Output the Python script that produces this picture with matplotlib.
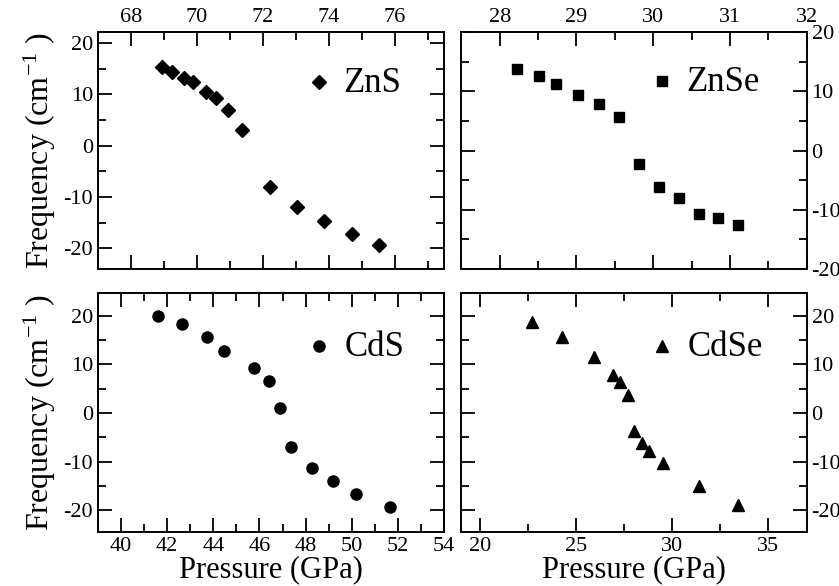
import matplotlib
matplotlib.use('Agg')
import matplotlib.pyplot as plt
from matplotlib.ticker import MultipleLocator

plt.rcParams['font.family'] = ['Liberation Serif', 'DejaVu Serif']
plt.rcParams['mathtext.fontset'] = 'custom'
plt.rcParams['mathtext.rm'] = 'Liberation Serif'
plt.rcParams['mathtext.it'] = 'Liberation Serif'
plt.rcParams['axes.unicode_minus'] = False

# ZnS (top-left)
zns_p = [68.94, 69.24, 69.62, 69.89, 70.29, 70.57, 70.96, 71.37, 72.21, 73.03, 73.85, 74.70, 75.54]
zns_f = [15.2, 14.3, 13.1, 12.3, 10.5, 9.3, 6.9, 3.0, -8.1, -11.9, -14.7, -17.2, -19.4]
# ZnSe (top-right)
znse_p = [28.23, 28.51, 28.74, 29.02, 29.30, 29.55, 29.81, 30.07, 30.33, 30.60, 30.85, 31.11]
znse_f = [13.8, 12.5, 11.3, 9.4, 7.9, 5.6, -2.2, -6.1, -8.0, -10.7, -11.4, -12.6]
# CdS (bottom-left)
cds_p = [41.60, 42.65, 43.74, 44.47, 45.75, 46.42, 46.91, 47.35, 48.27, 49.20, 50.19, 51.64]
cds_f = [19.9, 18.2, 15.7, 12.7, 9.3, 6.5, 1.0, -7.0, -11.3, -14.0, -16.6, -19.4]
# CdSe (bottom-right)
cdse_p = [22.68, 24.27, 25.90, 26.93, 27.29, 27.68, 28.02, 28.41, 28.79, 29.50, 31.41, 33.41]
cdse_f = [18.8, 15.7, 11.6, 7.9, 6.3, 3.6, -3.7, -6.1, -7.8, -10.2, -15.1, -19.0]

W, H = 839, 586
fig = plt.figure(figsize=(W / 100, H / 100), dpi=100)


def make_axes(l, r, t, b):
    return fig.add_axes([l / W, 1 - b / H, (r - l) / W, (b - t) / H])


ax1 = make_axes(98, 444, 32, 269)
ax2 = make_axes(461.3, 806.7, 32, 269)
ax3 = make_axes(98, 444, 293.3, 531.7)
ax4 = make_axes(461.3, 806.7, 293.3, 531.7)

panels = [
    (ax1, zns_p, zns_f, 'D', 7.5, 'ZnS', (67.0, 77.5), (-24, 22.1), 2, 1, (73.7, 12.4)),
    (ax2, znse_p, znse_f, 's', 7, 'ZnSe', (27.5, 32), (-20, 20), 1, 0.5, (30.11, 11.75)),
    (ax3, cds_p, cds_f, 'o', 8, 'CdS', (39, 54), (-24.4, 24.6), 2, 1, (48.6, 13.7)),
    (ax4, cdse_p, cdse_f, '^', 8.5, 'CdSe', (19, 37), (-24.4, 24.6), 5, 2.5, (29.47, 13.8)),
]

for ax, p, f, m, ms, name, xl, yl, xmaj, xmin, leg in panels:
    ax.plot(p, f, linestyle='none', marker=m, markersize=ms, color='black')
    # legend marker + label
    ax.plot([leg[0]], [leg[1]], linestyle='none', marker=m, markersize=ms, color='black')
    ax.annotate(name, xy=leg, xytext=(18, -1), textcoords='offset points',
                fontsize=25, va='center', ha='left')
    ax.set_xlim(*xl)
    ax.set_ylim(*yl)
    ax.xaxis.set_major_locator(MultipleLocator(xmaj))
    ax.xaxis.set_minor_locator(MultipleLocator(xmin))
    ax.yaxis.set_major_locator(MultipleLocator(10))
    ax.yaxis.set_minor_locator(MultipleLocator(5))
    ax.tick_params(which='both', direction='in', top=True, bottom=True,
                   left=True, right=True, labelsize=16, width=1.3)
    ax.tick_params(which='major', length=10)
    ax.tick_params(which='minor', length=5.5)
    for s in ax.spines.values():
        s.set_linewidth(1.4)

# top row: x labels on top
for ax in (ax1, ax2):
    ax.tick_params(labeltop=True, labelbottom=False)
# right column: y labels on right
for ax in (ax2, ax4):
    ax.tick_params(labelleft=False, labelright=True)

ax1.set_xticks([68, 70, 72, 74, 76])
ax3.set_xticks([40, 42, 44, 46, 48, 50, 52, 54])
ax4.set_xticks([20, 25, 30, 35])

for ax in (ax1, ax3):
    ax.set_ylabel('Frequency (cm$^{-1}$ )', fontsize=23, labelpad=4)
for ax in (ax3, ax4):
    ax.set_xlabel('Pressure (GPa)', fontsize=22, labelpad=0)

fig.savefig('out.png', dpi=100)
